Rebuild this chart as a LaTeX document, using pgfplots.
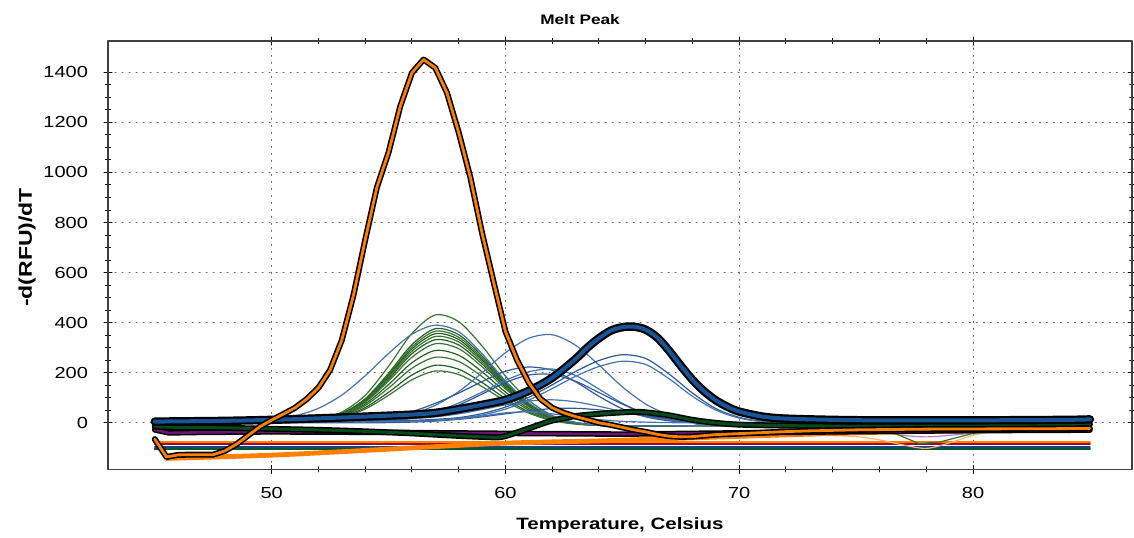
\documentclass[border=0pt]{standalone}
\usepackage{fontspec}
\setmainfont{Liberation Sans}[FakeStretch=1.25]
\setsansfont{Liberation Sans}[FakeStretch=1.25]
\usepackage{pgfplots}
\usepackage{pgfplotstable}
\pgfplotsset{compat=1.18}
\definecolor{gthin}{RGB}{60,115,50}
\definecolor{gthinb}{RGB}{35,95,35}
\definecolor{bthin}{RGB}{70,115,175}
\definecolor{bthinb}{RGB}{45,90,150}
\definecolor{oran}{RGB}{255,128,0}
\definecolor{bthick}{RGB}{25,85,150}
\definecolor{gthick}{RGB}{0,75,25}
\definecolor{purp}{RGB}{110,20,115}
\definecolor{lorange}{RGB}{255,180,110}
\definecolor{orchid}{RGB}{190,120,200}

\pgfplotstableread{
x    G1  G2  G3  G4  G5  G6  G7  G8  G9  G10 G11
45   0   0   0   0   0   0   0   0   0   0   0
48   3   3   3   3   3   3   3   3   3   3   3
50   5   5   5   5   5   5   5   5   5   5   5
51   7   7   7   7   7   7   7   6   6   6   6
52   15  14  14  14  13  13  13  12  11  11  10
53   43  38  37  36  35  34  33  30  28  25  23
54   110 96  94  92  89  86  82  75  69  61  55
55   226 198 192 187 182 175 167 153 139 122 110
56   357 312 303 295 286 276 262 240 218 191 172
57   431 376 366 356 345 332 316 289 262 230 207
58   404 352 342 333 323 311 296 270 245 214 193
59   307 267 259 252 244 235 224 204 185 161 145
60   187 162 158 153 148 143 136 123 111 97  87
61   90  77  75  73  70  67  64  57  51  44  39
62   30  25  24  23  22  21  20  17  15  11  9
63   2   1   0   0   0   -1  -1  -2  -3  -4  -5
64   -9  -9  -9  -9  -9  -9  -9  -10 -10 -10 -10
65   -11 -11 -11 -11 -11 -11 -11 -12 -12 -12 -12
66   -12 -12 -12 -12 -12 -12 -12 -12 -12 -12 -12
70   -10 -10 -10 -10 -10 -10 -10 -10 -10 -10 -10
75   -8  -8  -8  -8  -8  -8  -8  -8  -8  -8  -8
80   -6  -6  -6  -6  -6  -6  -6  -6  -6  -6  -6
85   -5  -5  -5  -5  -5  -5  -5  -5  -5  -5  -5
}\greens

\pgfplotstableread{
x   BA  B1  B4  B5  B6  B7  B8  B9  B2  B3
45  3   10  8   5   3   12  0   5   8   5
48  5   10  8   5   3   12  0   5   8   5
50  14  10  8   5   3   12  0   5   8   5
51  28  10  8   5   3   12  0   5   8   5
52  58  9   8   5   2   12  0   5   8   5
53  111 10  11  5   2   12  0   5   8   5
54  188 13  16  7   4   13  0   5   8   5
55  277 20  26  12  8   14  1   6   9   6
56  354 36  45  23  18  17  3   7   10  7
57  390 70  78  44  38  24  7   10  14  10
58  364 125 119 79  71  36  14  16  21  18
59  276 200 165 123 115 53  24  27  37  31
60  168 280 206 170 161 72  36  40  63  55
61  80  338 223 204 191 87  48  44  102 91
62  26  352 210 215 193 92  57  36  152 137
63  1   310 164 189 166 84  58  24  205 186
64  -9  231 106 135 121 66  52  13  249 225
65  -11 144 56  78  75  45  41  6   272 246
66  -12 75  24  36  37  26  28  3   257 233
67  -12 32  8   12  13  12  16  1   195 176
68  -11 11  1   2   1   5   7   0   119 106
69  -11 2   -1  -3  -4  1   1   -1  57  51
70  -10 -2  -3  -5  -6  0   -3  -2  22  19
71  -10 -3  -3  -5  -7  -1  -4  -2  6   4
72  -9  -3  -3  -6  -7  -1  -5  -2  1   -2
75  -8  -4  -4  -6  -8  -2  -5  -3  -2  -3
80  -6  -3  -3  -5  -7  -2  -5  -3  -2  -3
85  -5  -3  -3  -4  -6  -2  -4  -3  -2  -3
}\blues

\begin{document}
\begin{tikzpicture}
\begin{axis}[
  scale only axis, width=511.85pt, height=214.15pt,
  xmin=43.0, xmax=86.8, ymin=-186, ymax=1525,
  xtick={50,60,70,80}, ytick={0,200,400,600,800,1000,1200,1400},
  minor x tick num=4, minor y tick num=3,
  tick align=center, major tick length=4pt, minor tick length=2.5pt,
  grid=major,
  major grid style={black!60, line width=0.5pt, dash pattern=on 0.5pt off 3pt},
  axis line style={black!75, line width=0.6pt},
  every tick/.style={black, line width=0.5pt},
  ticklabel style={font=\fontsize{8}{9.6}\selectfont},
  xticklabel style={yshift=-3.5pt},
  yticklabel style={xshift=-4.5pt},
  /pgf/number format/assume math mode=true,
  /pgf/number format/1000 sep={},
  xlabel={Temperature, Celsius},
  ylabel={-d(RFU)/dT},
  xlabel style={font=\bfseries\fontsize{8.2}{10}\selectfont, at={(axis description cs:0.5,-0.130)}, anchor=center},
  ylabel style={font=\bfseries\fontsize{9.2}{11}\selectfont, at={(axis description cs:-0.0791,0.518)}, anchor=center},
  title={Melt Peak},
  title style={font=\bfseries\fontsize{6.9}{8}\selectfont, at={(axis description cs:0.461,1.049)}, anchor=center, yshift=-6pt},
  line join=round, line cap=round,
]
\coordinate (bbsw) at (rel axis cs:-0.10547,-0.1581);
\coordinate (bbne) at (rel axis cs:1.00195,1.0957);
% thin green curves
\addplot[gthin, line width=0.6pt, smooth] table[x=x,y=G1]{\greens};
\addplot[gthinb, line width=0.6pt, smooth] table[x=x,y=G2]{\greens};
\addplot[gthin, line width=0.6pt, smooth] table[x=x,y=G3]{\greens};
\addplot[gthinb, line width=0.6pt, smooth] table[x=x,y=G4]{\greens};
\addplot[gthin, line width=0.6pt, smooth] table[x=x,y=G5]{\greens};
\addplot[gthinb, line width=0.6pt, smooth] table[x=x,y=G6]{\greens};
\addplot[gthin, line width=0.6pt, smooth] table[x=x,y=G7]{\greens};
\addplot[gthinb, line width=0.6pt, smooth] table[x=x,y=G8]{\greens};
\addplot[gthin, line width=0.6pt, smooth] table[x=x,y=G9]{\greens};
\addplot[gthinb, line width=0.6pt, smooth] table[x=x,y=G10]{\greens};
\addplot[gthin, line width=0.6pt, smooth] table[x=x,y=G11]{\greens};
% thin blue curves
\addplot[bthin, line width=0.6pt, smooth] table[x=x,y=BA]{\blues};
\addplot[bthin, line width=0.6pt, smooth] table[x=x,y=B1]{\blues};
\addplot[bthinb, line width=0.6pt, smooth] table[x=x,y=B4]{\blues};
\addplot[bthin, line width=0.6pt, smooth] table[x=x,y=B5]{\blues};
\addplot[bthinb, line width=0.6pt, smooth] table[x=x,y=B6]{\blues};
\addplot[bthin, line width=0.6pt, smooth] table[x=x,y=B7]{\blues};
\addplot[bthinb, line width=0.6pt, smooth] table[x=x,y=B8]{\blues};
\addplot[bthin, line width=0.6pt, smooth] table[x=x,y=B9]{\blues};
\addplot[bthinb, line width=0.6pt, smooth] table[x=x,y=B2]{\blues};
\addplot[bthin, line width=0.6pt, smooth] table[x=x,y=B3]{\blues};
% flat lines at the bottom
\addplot[oran, line width=0.9pt] coordinates {(45,-76) (85,-76)};
\addplot[purp, line width=0.9pt] coordinates {(45,-85) (85,-85)};
\addplot[red!75!black, line width=0.4pt] coordinates {(45,-81) (85,-81)};
\addplot[bthick!80!black, line width=1pt] coordinates {(45,-96) (85,-96)};
\addplot[gthick!80!teal, line width=1.2pt] coordinates {(45,-104) (85,-104)};
% thin dips near 78
\addplot[lorange, line width=0.6pt, smooth] coordinates {(68,-40) (70,-43) (73,-48) (75,-55) (76,-68) (77,-88) (78,-102) (79,-80) (80,-50) (81,-35) (83,-30) (85,-28)};
\addplot[orchid, line width=0.6pt, smooth] coordinates {(72,-28) (74,-30) (76,-38) (77,-50) (78,-56) (79,-50) (80,-40) (81,-30) (83,-27)};
\addplot[gthin, line width=0.6pt] coordinates {(74,-30) (76.5,-36) (77.7,-83) (78.6,-76) (80,-42) (81,-30)};
% thick orange baseline curve
\addplot[oran, line width=2.4pt, smooth] coordinates {(45.5,-142) (47,-138) (50,-129) (52,-120) (55,-105) (58,-90) (60,-81) (62,-76) (64,-72) (66,-66) (68,-60) (70,-54) (72,-48) (75,-40) (78,-34) (81,-30) (85,-26)};
% purple thick with outline
\addplot[black, line width=2.8pt] coordinates {(45,-28) (45.6,-40) (47,-38) (50,-36) (55,-38) (60,-42) (65,-45) (70,-40) (75,-35) (80,-31) (85,-29)};
\addplot[purp, line width=1.3pt] coordinates {(45,-28) (45.6,-40) (47,-38) (50,-36) (55,-38) (60,-42) (65,-45) (70,-40) (75,-35) (80,-31) (85,-29)};
% dark green thick with outline
\addplot[black, line width=3pt, smooth] coordinates {(45,-15) (46,-18) (48,-20) (50,-24) (52,-28) (54,-34) (56,-42) (57,-47) (58,-52) (59,-56) (59.8,-57) (60.5,-38) (61,-22) (61.5,-6) (62,9) (63,27) (64,36) (65,42) (65.5,44) (66,42) (67,30) (68,12) (69,0) (70,-7) (72,-11) (75,-13) (80,-10) (85,-5)};
\addplot[gthick, line width=1.5pt, smooth] coordinates {(45,-15) (46,-18) (48,-20) (50,-24) (52,-28) (54,-34) (56,-42) (57,-47) (58,-52) (59,-56) (59.8,-57) (60.5,-38) (61,-22) (61.5,-6) (62,9) (63,27) (64,36) (65,42) (65.5,44) (66,42) (67,30) (68,12) (69,0) (70,-7) (72,-11) (75,-13) (80,-10) (85,-5)};
% thick blue with outline
\addplot[black, line width=4.2pt, smooth] coordinates {(45,5) (46,6) (48,8) (50,12) (52,18) (54,25) (56,33) (57,40) (58,55) (59,72) (60,92) (61,128) (62,180) (63,255) (63.5,300) (64,338) (64.5,368) (65,382) (65.5,384) (66,372) (66.5,340) (67,288) (67.5,228) (68,172) (68.5,126) (69,90) (69.5,64) (70,45) (71,25) (72,17) (74,12) (76,10) (80,10) (84,12) (85,14)};
\addplot[bthick, line width=2pt, smooth] coordinates {(45,5) (46,6) (48,8) (50,12) (52,18) (54,25) (56,33) (57,40) (58,55) (59,72) (60,92) (61,128) (62,180) (63,255) (63.5,300) (64,338) (64.5,368) (65,382) (65.5,384) (66,372) (66.5,340) (67,288) (67.5,228) (68,172) (68.5,126) (69,90) (69.5,64) (70,45) (71,25) (72,17) (74,12) (76,10) (80,10) (84,12) (85,14)};
% main orange peak with outline
\addplot[black, line width=3pt] coordinates {(45,-65) (45.5,-136) (46,-128) (46.5,-127) (47,-127) (47.5,-127) (48,-112) (48.5,-85) (49,-50) (49.5,-15) (50,11) (50.5,35) (51,60) (51.5,95) (52,140) (52.5,211) (53,330) (53.5,510) (54,730) (54.5,940) (55,1080) (55.5,1264) (56,1398) (56.5,1451) (57,1418) (57.5,1318) (58,1160) (58.5,980) (59,758) (59.5,560) (60,365) (60.5,250) (61,160) (61.5,95) (62,60) (62.5,40) (63,25) (63.5,13) (64,0) (64.5,-8) (65,-18) (65.5,-28) (66,-36) (66.5,-46) (67,-53) (67.5,-56) (68,-55) (68.5,-51) (69,-47) (70,-43) (71,-39) (72,-35) (73,-32) (75,-28) (78,-25) (81,-24) (84,-23) (85,-22)};
\addplot[oran, line width=1.4pt] coordinates {(45,-65) (45.5,-136) (46,-128) (46.5,-127) (47,-127) (47.5,-127) (48,-112) (48.5,-85) (49,-50) (49.5,-15) (50,11) (50.5,35) (51,60) (51.5,95) (52,140) (52.5,211) (53,330) (53.5,510) (54,730) (54.5,940) (55,1080) (55.5,1264) (56,1398) (56.5,1451) (57,1418) (57.5,1318) (58,1160) (58.5,980) (59,758) (59.5,560) (60,365) (60.5,250) (61,160) (61.5,95) (62,60) (62.5,40) (63,25) (63.5,13) (64,0) (64.5,-8) (65,-18) (65.5,-28) (66,-36) (66.5,-46) (67,-53) (67.5,-56) (68,-55) (68.5,-51) (69,-47) (70,-43) (71,-39) (72,-35) (73,-32) (75,-28) (78,-25) (81,-24) (84,-23) (85,-22)};
\end{axis}
\pgfresetboundingbox
\path[use as bounding box] (bbsw) rectangle (bbne);
\end{tikzpicture}
\end{document}
